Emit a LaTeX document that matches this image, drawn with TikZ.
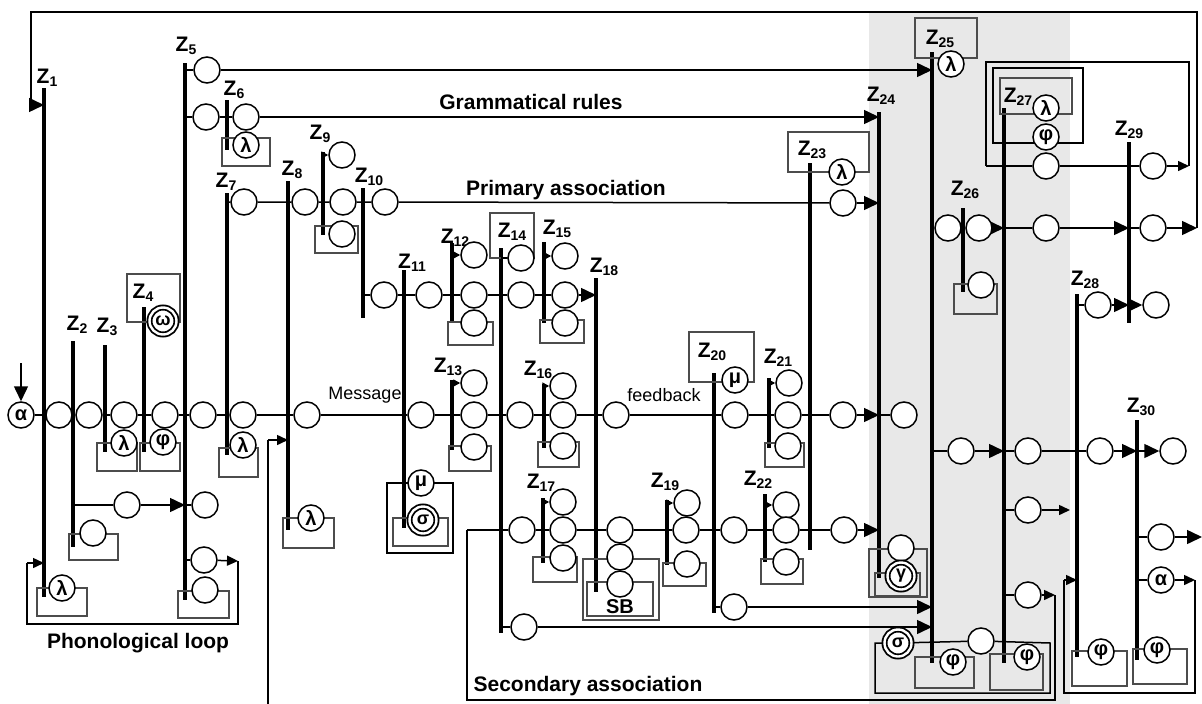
\documentclass[tikz,border=0pt]{standalone}
\usepackage{fontspec}
\setmainfont{Liberation Sans}
\usetikzlibrary{arrows.meta}
\pgfdeclarelayer{back}
\pgfdeclarelayer{mid}
\pgfsetlayers{back,mid,main}
\tikzstyle{pl}=[circle,draw,line width=1.5pt,fill=white,minimum size=26pt,inner sep=0pt]
\tikzstyle{gk}=[pl,font=\bfseries\fontsize{20}{20}\selectfont]
\tikzstyle{dbl}=[circle,draw,line width=1.8pt,double=white,double distance=2.4pt,fill=white,minimum size=27pt,inner sep=0pt,font=\bfseries\fontsize{18}{18}\selectfont]
\tikzstyle{tr}=[line width=3.3pt]
\tikzstyle{ln}=[line width=1.5pt]
\tikzstyle{gbox}=[draw=black!70,line width=1.4pt]
\tikzstyle{arr}=[ln,-{Triangle[length=15pt,width=14pt]}]
\tikzstyle{marr}=[ln,-{Triangle[length=11pt,width=10pt]}]
\tikzstyle{sarr}=[ln,-{Triangle[length=7pt,width=7pt]}]
\tikzstyle{zlab}=[inner sep=0pt,font=\bfseries\fontsize{21}{21}\selectfont]
\tikzstyle{ttl}=[inner sep=0pt,font=\bfseries\fontsize{21}{21}\selectfont]
\tikzstyle{msg}=[inner sep=0pt,font=\fontsize{18}{18}\selectfont]
\newcommand{\zsub}[1]{Z\raisebox{-3pt}{\fontsize{14}{14}\selectfont #1}}

\begin{document}
\begin{tikzpicture}[x=1pt,y=-1pt]
\useasboundingbox (0,0) rectangle (1202,704);
\begin{pgfonlayer}{back}
\fill[black!9] (869,13) rectangle (1070,704);
\end{pgfonlayer}

% transitions
\begin{pgfonlayer}{mid}
\foreach \n/\x/\ya/\yb in {1/44/88/597, 2/73/341/547, 3/105/345/452, 4/144/307/452, 5/185/63/600, 6/227/100/150, 7/227/193/455, 8/288/181/530, 9/323/152/235, 10/363/188/318, 11/404/270/528, 12/452/243/323, 13/452/380/450, 14/501/248/633, 15/544/242/323, 16/544/384/448, 17/543/498/563, 18/596/278/592, 19/667/500/565, 20/714/373/613, 21/769/378/448, 22/765/494/562, 23/810/163/550, 24/879/112/578, 25/932/52/663, 26/963/208/292, 27/1004/108/663, 28/1077/294/657, 29/1129/142/323, 30/1137/420/660}
  \draw[tr] (\x,\ya) coordinate (z\n) -- (\x,\yb);
\end{pgfonlayer}
\foreach \n/\x/\y in {1/47/78, 2/77/325, 3/107/327, 4/143/293, 5/186/46, 6/234/90, 7/226/182, 8/292/170, 9/320/134, 10/369/177, 11/412/263, 12/455/238, 13/448/367, 14/512/232, 15/557/229, 16/538/370, 17/541/483, 18/604/267, 19/665/482, 20/712/352, 21/778/358, 22/758/480, 23/812/150, 24/881/96, 25/940/39, 26/965/190, 27/1018/97, 28/1085/280, 29/1129/130, 30/1141/407}
  \node[zlab] (lz\n) at (\x,\y) {\zsub{\n}};

% places on the message line
\node[gk] (a) at (21,415) {α};
\foreach \n/\x in {1/59,2/89,3/124,4/165,5/203,6/243,7/307,8/421,9/474,10/520,11/563,12/616,13/735,14/788,15/843,16/904}
  \node[pl] (m\n) at (\x,415) {};
\coordinate (ain) at (21,363);

% other places
\node[gk] (l1) at (62,588) {λ};
\node[pl] (p2a) at (127,505) {};
\node[pl] (p2b) at (93,533) {};
\node[gk] (l3) at (124,443) {λ};
\node[gk] (f4) at (163,442) {φ};
\node[dbl] (w4) at (163,321) {ω};
\node[pl] (p5a) at (207,70) {};
\node[pl] (p5b) at (206,117) {};
\node[pl] (p5c) at (205,505) {};
\node[pl] (p5d) at (204,560) {};
\node[pl] (p5e) at (205,590) {};
\node[pl] (p6a) at (246,117) {};
\node[gk] (l6) at (246,145) {λ};
\node[pl] (p7a) at (244,202) {};
\node[gk] (l7) at (243,445) {λ};
\node[pl] (p8a) at (305,202) {};
\node[gk] (l8) at (311,518) {λ};
\node[pl] (p9a) at (342,155) {};
\node[pl] (p9b) at (343,202) {};
\node[pl] (p9c) at (342,234) {};
\node[pl] (p10a) at (385,202) {};
\node[pl] (p10b) at (384,295) {};
\node[pl] (p11a) at (429,295) {};
\node[gk] (u11) at (421,483) {μ};
\node[dbl] (s11) at (423,520) {σ};
\node[pl] (p12a) at (474,255) {};
\node[pl] (p12b) at (474,295) {};
\node[pl] (p12c) at (474,323) {};
\node[pl] (p13a) at (474,383) {};
\node[pl] (p13c) at (474,447) {};
\node[pl] (p14a) at (521,258) {};
\node[pl] (p14b) at (521,295) {};
\node[pl] (p14c) at (522,530) {};
\node[pl] (p14d) at (524,627) {};
\node[pl] (p15a) at (565,256) {};
\node[pl] (p15b) at (565,295) {};
\node[pl] (p15c) at (565,323) {};
\node[pl] (p16a) at (563,386) {};
\node[pl] (p16c) at (563,446) {};
\node[pl] (p17a) at (563,502) {};
\node[pl] (p17b) at (563,530) {};
\node[pl] (p17c) at (563,558) {};
\node[pl] (p18a) at (620,530) {};
\node[pl] (p18b) at (620,557) {};
\node[pl] (p18c) at (620,584) {};
\node[pl] (p19a) at (687,503) {};
\node[pl] (p19b) at (686,530) {};
\node[pl] (p19c) at (687,564) {};
\node[gk] (u20) at (735,380) {μ};
\node[pl] (p20a) at (734,530) {};
\node[pl] (p20b) at (734,607) {};
\node[pl] (p21a) at (789,383) {};
\node[pl] (p21c) at (788,446) {};
\node[pl] (p22a) at (786,505) {};
\node[pl] (p22b) at (786,530) {};
\node[pl] (p22c) at (786,562) {};
\node[gk] (l23) at (842,172) {λ};
\node[pl] (p23b) at (843,203) {};
\node[pl] (p23c) at (844,530) {};
\node[pl] (p24a) at (901,548) {};
\node[dbl] (g24) at (901,576) {γ};
\node[dbl] (s24) at (898,643) {σ};
\node[pl] (p25x) at (981,641) {};
\node[gk] (l25) at (951,64) {λ};
\node[pl] (p25a) at (948,228) {};
\node[pl] (p25b) at (961,451) {};
\node[gk] (f25) at (953,662) {φ};
\node[pl] (p26a) at (979,228) {};
\node[pl] (p26b) at (981,285) {};
\node[gk] (l27) at (1046,108) {λ};
\node[gk] (f27) at (1046,137) {φ};
\node[pl] (p27a) at (1046,166) {};
\node[pl] (p27b) at (1046,228) {};
\node[pl] (p27c) at (1028,451) {};
\node[pl] (p27d) at (1028,510) {};
\node[pl] (p27e) at (1028,595) {};
\node[gk] (f27b) at (1027,657) {φ};
\node[pl] (p28a) at (1100,451) {};
\node[pl] (p28b) at (1098,305) {};
\node[gk] (f28) at (1101,652) {φ};
\node[pl] (p29a) at (1153,166) {};
\node[pl] (p29b) at (1153,228) {};
\node[pl] (p29c) at (1156,305) {};
\node[pl] (p30a) at (1173,451) {};
\node[pl] (p30b) at (1161,537) {};
\node[gk] (a30) at (1161,580) {α};
\node[gk] (f30) at (1157,650) {φ};

% captions
\node[ttl] (tgr) at (531,102) {Grammatical rules};
\node[ttl] (tpa) at (566,190) {Primary association};
\node[msg] (tms) at (365,395) {Message};
\node[msg] (tfb) at (664,395) {feedback};
\node[ttl] (tpl) at (138,643) {Phonological loop};
\node[ttl] (tsa) at (588,686) {Secondary association};
\node[ttl,font=\bfseries\fontsize{20}{20}\selectfont] (tsb) at (620,607) {SB};

% loop corners
\coordinate (tf1) at (1197,228); \coordinate (tf2) at (1197,12);
\coordinate (tf3) at (31,12); \coordinate (tf4) at (31,105);
\coordinate (ph1) at (238,561); \coordinate (ph2) at (238,624);
\coordinate (ph3) at (27,624); \coordinate (ph4) at (27,563);
\coordinate (b8) at (268,704); \coordinate (c8) at (268,440);
\coordinate (sa1) at (467,530); \coordinate (sb1) at (1055,595);
\coordinate (sb2) at (1055,700); \coordinate (sb3) at (467,700);
\coordinate (lp1) at (1189,166); \coordinate (lp2) at (1189,62);
\coordinate (lp3) at (986,62); \coordinate (lp4) at (986,166);
\coordinate (r1) at (1050,643); \coordinate (r2) at (1050,693);
\coordinate (r3) at (875,693); \coordinate (r4) at (875,643);
\coordinate (e27) at (1070,510); \coordinate (e30) at (1202,537);
\coordinate (al1) at (1195,580); \coordinate (al2) at (1195,693);
\coordinate (al3) at (1064,693); \coordinate (al4) at (1064,580);

\begin{pgfonlayer}{mid}
% boxes
\foreach \xa/\ya/\xb/\yb in {37/588/87/616, 69/534/118/560, 97/443/137/471, 140/443/180/471, 127/274/180/322, 178/591/229/618, 222/138/270/166, 219/448/258/477, 283/518/334/548, 315/226/358/253, 393/518/448/546, 448/322/493/345, 490/213/534/258, 540/320/584/343, 449/446/491/471, 538/442/579/467, 533/557/577/582, 583/559/659/620, 587/582/653/616, 663/563/706/586, 689/332/754/382, 765/443/804/467, 761/559/803/584, 788/132/869/172, 869/549/927/597, 875/573/920/596, 915/18/977/58, 954/284/997/314, 1000/78/1072/114, 915/657/974/688, 990/654/1043/690, 1072/651/1127/686, 1133/649/1187/684}
  \draw[gbox] (\xa,\ya) rectangle (\xb,\yb);
\draw[ln] (387,483) rectangle (453,553);
\draw[ln] (993,68) rectangle (1083,143);

% message line
\draw[arr] (ain) -- (a);
\draw[ln] (a) -- (m1) -- (m2) -- (m3) -- (m4) -- (m5) -- (m6) -- (m7) -- (m8) -- (m9) -- (m10) -- (m11) -- (m12) -- (m13) -- (m14) -- (m15);
\draw[arr] (m15) -- (m15 -| z24);
\draw[ln] (m15 -| z24) -- (m16);

% feedback to Z1 and phonological loop
\draw[ln] (tf1) -- (tf2) -- (tf3) -- (tf4);
\draw[arr] (tf4) -- (tf4 -| z1);
\draw[marr] (p5d) -- (ph1);
\draw[ln] (ph1) -- (ph2) -- (ph3) -- (ph4);
\draw[marr] (ph4) -- (ph4 -| z1);
\draw[ln] (z2 |- p2a) -- (p2a);
\draw[arr] (p2a) -- (p2a -| z5);
\draw[ln] (p2a -| z5) -- (p5c);
\draw[ln] (z5 |- p5d) -- (p5d);

% grammatical rules
\draw[ln] (z5 |- p5a) -- (p5a);
\draw[arr] (p5a) -- (p5a -| z25);
\draw[ln] (z5 |- p5b) -- (p5b) -- (p6a);
\draw[arr] (p6a) -- (p6a -| z24);

% primary association
\draw[ln] (z7 |- p7a) -- (p7a) -- (p8a) -- (p9b) -- (p10a) -- (p23b);
\draw[arr] (p23b) -- (p23b -| z24);
\draw[sarr] (z9 |- p9a) -- (p9a);
\draw[ln] (b8) -- (c8);
\draw[marr] (c8) -- (c8 -| z8);
\draw[ln] (z10 |- p10b) -- (p10b) -- (p11a) -- (p12b) -- (p14b) -- (p15b);
\draw[arr] (p15b) -- (p15b -| z18);
\draw[sarr] (z12 |- p12a) -- (p12a);
\draw[ln] (z14 |- p14a) -- (p14a);
\draw[sarr] (z15 |- p15a) -- (p15a);
\draw[sarr] (z13 |- p13a) -- (p13a);
\draw[sarr] (z16 |- p16a) -- (p16a);
\draw[sarr] (z17 |- p17a) -- (p17a);
\draw[sarr] (z19 |- p19a) -- (p19a);
\draw[sarr] (z21 |- p21a) -- (p21a);
\draw[sarr] (z22 |- p22a) -- (p22a);

% secondary association
\draw[ln] (sa1) -- (p14c) -- (p17b) -- (p18a) -- (p19b) -- (p20a) -- (p22b) -- (p23c);
\draw[arr] (p23c) -- (p23c -| z24);
\draw[ln] (z14 |- p14d) -- (p14d);
\draw[arr] (p14d) -- (p14d -| z25);
\draw[ln] (z20 |- p20b) -- (p20b);
\draw[arr] (p20b) -- (p20b -| z25);
\draw[ln] (z27 |- p27e) -- (p27e);
\draw[marr] (p27e) -- (sb1);
\draw[ln] (sb1) -- (sb2) -- (sb3) -- (sa1);
\draw[ln] (s24) -- (p25x) -- (r1) -- (r2) -- (r3) -- (r4) -- (s24);

% right part
\draw[ln] (z25 |- p25a) -- (p25a) -- (p26a);
\draw[arr] (p26a) -- (p26a -| z27);
\draw[ln] (p26a -| z27) -- (p27b);
\draw[arr] (p27b) -- (p27b -| z29);
\draw[ln] (p27b -| z29) -- (p29b);
\draw[arr] (p29b) -- (tf1);
\draw[ln] (z25 |- p25b) -- (p25b);
\draw[arr] (p25b) -- (p25b -| z27);
\draw[ln] (p25b -| z27) -- (p27c) -- (p28a);
\draw[arr] (p28a) -- (p28a -| z30);
\draw[arr] (p28a -| z30) -- (p30a);
\draw[ln] (z27 |- p27d) -- (p27d);
\draw[marr] (p27d) -- (e27);
\draw[ln] (lp4) -- (p27a) -- (p29a);
\draw[marr] (p29a) -- (lp1);
\draw[ln] (lp1) -- (lp2) -- (lp3) -- (lp4);
\draw[ln] (z28 |- p28b) -- (p28b);
\draw[arr] (p28b) -- (p28b -| z29);
\draw[arr] (p28b -| z29) -- (p29c);
\draw[ln] (z30 |- p30b) -- (p30b);
\draw[arr] (p30b) -- (e30);
\draw[ln] (z30 |- a30) -- (a30);
\draw[marr] (a30) -- (al1);
\draw[ln] (al1) -- (al2) -- (al3) -- (al4);
\draw[marr] (al4) -- (al4 -| z28);
\end{pgfonlayer}
\end{tikzpicture}
\end{document}
